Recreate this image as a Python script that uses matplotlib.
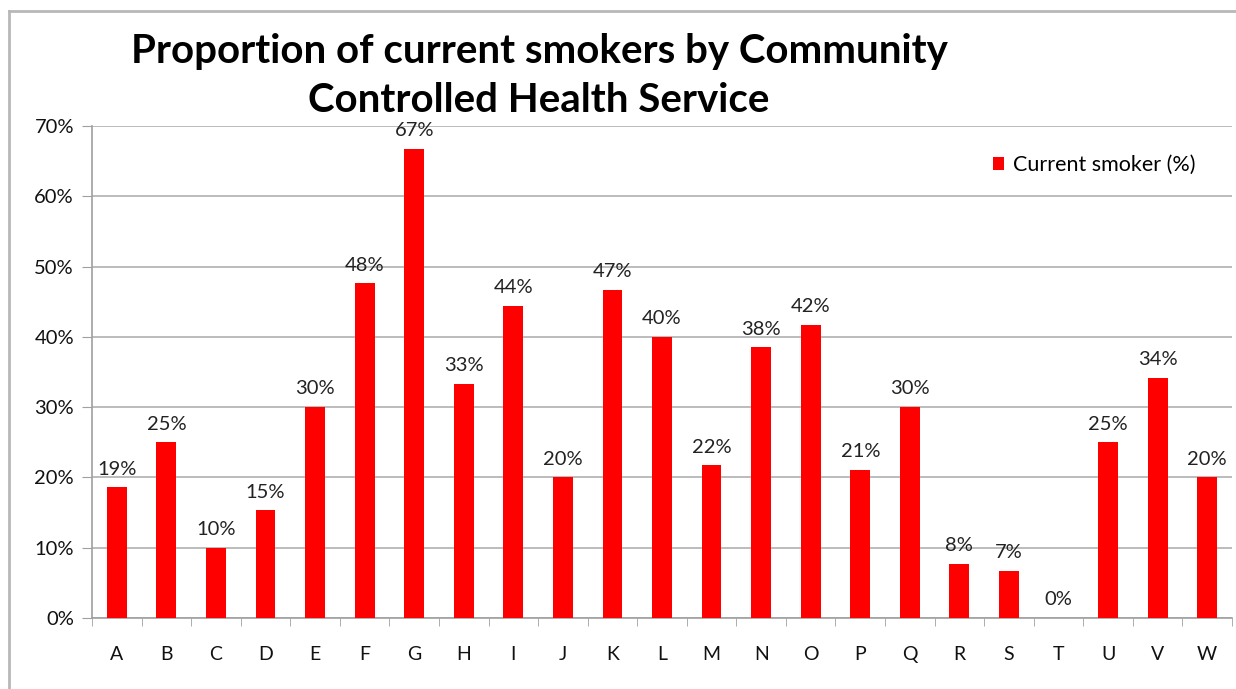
import numpy as np
import matplotlib.pyplot as plt
from matplotlib.lines import Line2D

# data
services = ["A", "B", "C", "D", "E", "F", "G", "H", "I", "J", "K", "L",
            "M", "N", "O", "P", "Q", "R", "S", "T", "U", "V", "W"]
smoker_pct = [18.6, 25.0, 10.0, 15.3, 30.0, 47.6, 66.7, 33.3, 44.4, 20.0, 46.7, 40.0,
              21.7, 38.5, 41.7, 21.1, 30.0, 7.7, 6.7, 0.0, 25.0, 34.2, 20.0]
y_ticks = [0, 10, 20, 30, 40, 50, 60, 70]

plt.rcParams['font.family'] = ['Lato', 'DejaVu Sans']

fig = plt.figure(figsize=(12.36, 6.89), dpi=100)
ax = fig.add_axes([92/1236, 71/689, 1140/1236, 492/689])

x = np.arange(len(services))
bars = ax.bar(x, smoker_pct, width=0.4, color="#ff0000", label="Current smoker (%)", zorder=3)

for xi, v in zip(x, smoker_pct):
    ax.annotate(f"{v:.0f}%", (xi, v), xytext=(0, 7), textcoords="offset points",
                ha="center", va="bottom", fontsize=14.5, color="#222222")

ax.set_xlim(-0.5, len(services) - 0.5)
ax.set_ylim(0, 70)
ax.set_yticks(y_ticks)
ax.set_yticklabels([f"{t}%" for t in y_ticks], fontsize=14.5, color="#111111")
ax.yaxis.grid(True, color="#b0b0b0", linewidth=1.2, zorder=0)
ax.set_xticks(x)
ax.set_xticklabels(services, fontsize=14, color="#111111")
ax.set_xticks(np.arange(-0.5, len(services), 1), minor=True)
ax.tick_params(axis="x", which="major", length=0, pad=20)
ax.tick_params(axis="x", which="minor", length=6, color="#a0a0a0", direction="out")
ax.tick_params(axis="y", length=7, color="#a0a0a0", pad=6)
for s in ["top", "right"]:
    ax.spines[s].set_visible(False)
for s in ["left", "bottom"]:
    ax.spines[s].set_color("#a0a0a0")
    ax.spines[s].set_linewidth(1.2)

ax.legend(loc="upper right", bbox_to_anchor=(0.985, 0.98), frameon=False, fontsize=15.5,
          handlelength=0.55, handleheight=0.55, handletextpad=0.4)

fig.text(539/1236, 1 - 52/689, "Proportion of current smokers by Community",
         ha="center", va="center", fontsize=29, fontweight="bold")
fig.text(539/1236, 1 - 100/689, "Controlled Health Service",
         ha="center", va="center", fontsize=29, fontweight="bold")

# outer chart border
fig.add_artist(Line2D([9/1236, 1], [1 - 11/689, 1 - 11/689], transform=fig.transFigure,
                      color="#b8b8b8", linewidth=2))
fig.add_artist(Line2D([9/1236, 9/1236], [0, 1 - 11/689], transform=fig.transFigure,
                      color="#b8b8b8", linewidth=2))

fig.savefig("out.png", dpi=100)
